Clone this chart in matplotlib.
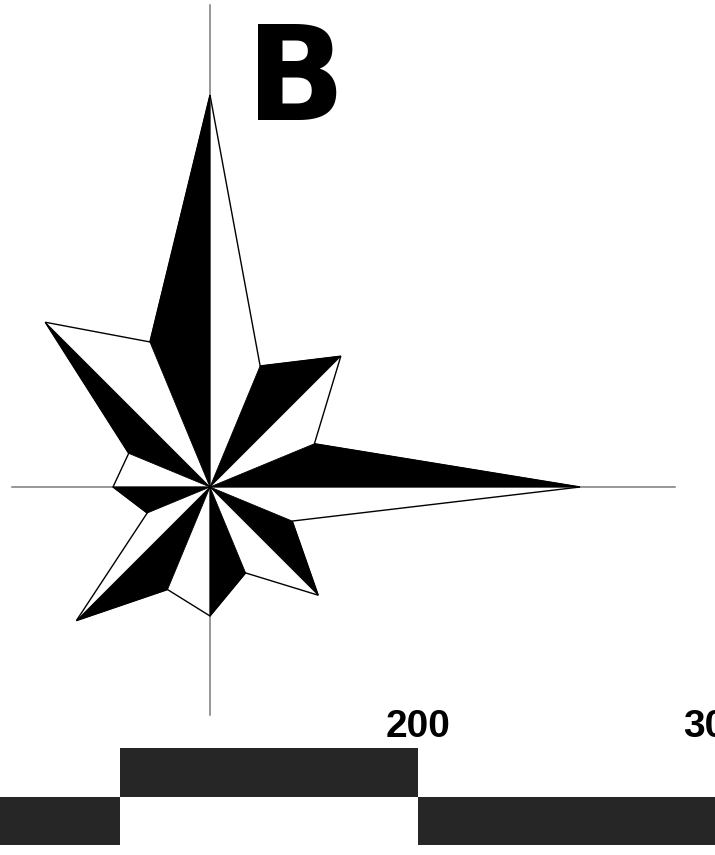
#!/usr/bin/env python3
"""
Rose diagram of 16 direction classes with a split black/white star,
a panel letter and a bar scale underneath.
"""

import matplotlib
matplotlib.use("Agg")
import matplotlib.pyplot as plt
import numpy as np
from matplotlib.patches import Polygon, Rectangle

# Direction classes, clockwise from north, and the ray length of each one
directions = ["N", "NNE", "NE", "ENE", "E", "ESE", "SE", "SSE",
              "S", "SSW", "SW", "WSW", "W", "WNW", "NW", "NNW"]
bearings = np.arange(16) * 22.5
lengths = [392, 131, 185, 113, 370, 89, 153, 93,
           129, 111, 189, 68, 97, 88, 233, 157]

# Bar scale: alternating segments (start, end, row) and the labelled marks
scale_segments = [(0, 100, "low"), (100, 200, "high"), (200, 300, "low")]
scale_labels = [200, 300]

panel_letter = "B"

W, H = 715, 855
fig = plt.figure(figsize=(W / 100, H / 100), dpi=100)

# main axes in pixel-sized units, rose centre at the origin
ax = fig.add_axes([0, 0, 1, 1])
ax.set_xlim(-210, W - 210)
ax.set_ylim(-(H - 487), 487)
ax.set_aspect("equal")
ax.axis("off")

# reference cross
ax.plot([0, 0], [-228, 482], color="#7a7a7a", lw=1.1, zorder=1)
ax.plot([-198, 465], [0, 0], color="#7a7a7a", lw=1.1, zorder=1)

theta = np.deg2rad(bearings)
r = np.array(lengths, dtype=float)
vx = r * np.sin(theta)
vy = r * np.cos(theta)

# each ray is half black: the wedge from the previous class up to a main class
for i in range(1, 16, 2):
    j = (i + 1) % 16
    tri = Polygon([(0, 0), (vx[i], vy[i]), (vx[j], vy[j])], closed=True,
                  facecolor="black", edgecolor="black", lw=0.6, zorder=2)
    ax.add_patch(tri)

outline = Polygon(np.column_stack([vx, vy]), closed=True, facecolor="none",
                  edgecolor="black", lw=1.0, zorder=3)
ax.add_patch(outline)

ax.text(296 - 210, 487 - 83, panel_letter, fontsize=94, fontweight="bold",
        family="DejaVu Sans", ha="center", va="center", zorder=4)

# bar scale along the bottom
px_per_unit = 2.98
origin_px = 120 - 100 * px_per_unit
sax = fig.add_axes([0, 0, 1, 165 / H])
sax.set_xlim((0 - origin_px) / px_per_unit, (W - origin_px) / px_per_unit)
sax.set_ylim(0, 165)
sax.axis("off")

rows = {"low": (10, 48), "high": (58, 49)}
for start, end, row in scale_segments:
    y0, h = rows[row]
    sax.add_patch(Rectangle((start, y0), end - start, h,
                            facecolor="#262626", edgecolor="none"))

for val in scale_labels:
    sax.text(val, 128, str(val), fontsize=28, fontweight="bold",
             family="Liberation Sans", ha="center", va="center", clip_on=False)

fig.savefig("out.png", dpi=100)
